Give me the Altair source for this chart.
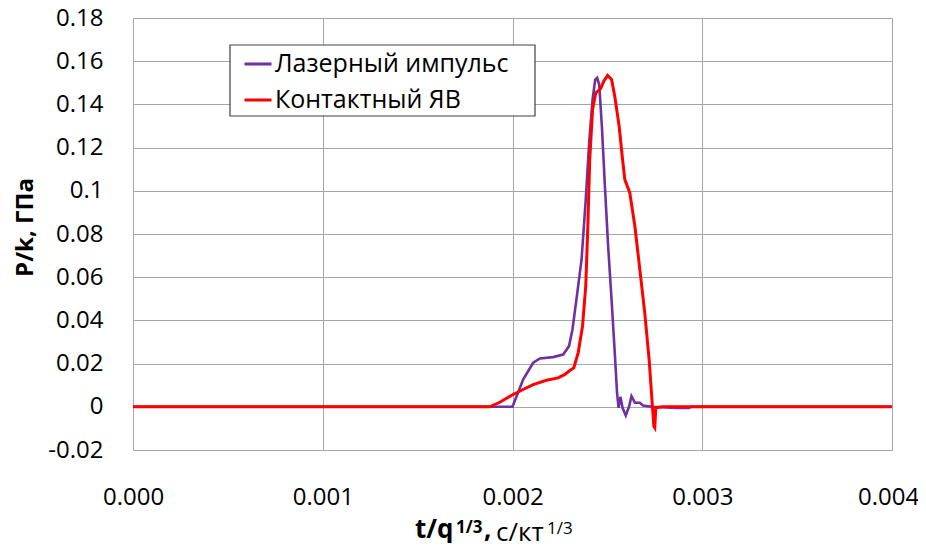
import altair as alt
import pandas as pd

# ---- data ----
laser_t = [0.0, 0.002, 0.002056, 0.002109, 0.002144, 0.002214, 0.002267, 0.002298,
           0.002316, 0.002337, 0.002364, 0.002386, 0.002404, 0.002422, 0.002436,
           0.002446, 0.002457, 0.002471, 0.002487, 0.002504, 0.002522, 0.002539,
           0.002551, 0.002559, 0.002569, 0.00258, 0.002597, 0.002615, 0.002627,
           0.002645, 0.002671, 0.002688, 0.002733, 0.00287, 0.00293, 0.00294, 0.004]
laser_p = [0.0, 0.0, 0.0126, 0.0204, 0.0224, 0.023, 0.0242, 0.0281,
           0.0358, 0.0497, 0.0682, 0.0959, 0.1222, 0.1423, 0.1515,
           0.1523, 0.1492, 0.1299, 0.1021, 0.0744, 0.0497, 0.025,
           0.0065, -0.0005, 0.0046, -0.0005, -0.004, 0.0003, 0.0049,
           0.0019, 0.0019, 0.0006, 0.0, -0.0005, -0.0005, 0.0, 0.0]

contact_t = [0.0, 0.00188, 0.001933, 0.002003, 0.002056, 0.002109, 0.002179, 0.00224,
             0.002276, 0.002302, 0.002323, 0.002346, 0.002369, 0.002386, 0.002397,
             0.002407, 0.002422, 0.002439, 0.002464, 0.002481, 0.002501, 0.002522,
             0.002539, 0.002562, 0.00258, 0.002592, 0.002618, 0.002645, 0.002671,
             0.002697, 0.00272, 0.002736, 0.002745, 0.00275, 0.002755, 0.00279, 0.004]
contact_p = [0.0, 0.0, 0.0021, 0.0057, 0.008, 0.0103, 0.0123, 0.0134,
             0.015, 0.0168, 0.018, 0.025, 0.0373, 0.0558, 0.0836,
             0.1145, 0.1376, 0.1454, 0.1472, 0.1507, 0.1534, 0.1515,
             0.1438, 0.1299, 0.1145, 0.1052, 0.0991, 0.0836, 0.0636,
             0.0435, 0.0219, 0.0019, -0.009, -0.0097, -0.0005, 0.0, 0.0]

series_names = ["Лазерный импульс", "Контактный ЯВ"]
series_colors = ["#7030A0", "#FF0000"]
x_ticks = [0.0, 0.001, 0.002, 0.003, 0.004]
y_ticks = [-0.02, 0.0, 0.02, 0.04, 0.06, 0.08, 0.1, 0.12, 0.14, 0.16, 0.18]

df_laser = pd.DataFrame({"t": laser_t, "p": laser_p, "series": series_names[0],
                         "order": range(len(laser_t))})
df_contact = pd.DataFrame({"t": contact_t, "p": contact_p, "series": series_names[1],
                           "order": range(len(contact_t))})

FONT = "Open Sans"
GRID = "#A6A6A6"

x_enc = alt.X("t:Q",
              scale=alt.Scale(domain=[0, 0.004], nice=False, zero=False),
              axis=alt.Axis(values=x_ticks, format=".3f", title="", grid=True,
                            gridColor=GRID, domain=False, ticks=False,
                            labelPadding=35, labelFontSize=24, labelFont=FONT,
                            labelColor="#000000", labelFlush=False,
                            labelOffset={"condition": {"test": "datum.value > 0.0035",
                                                       "value": -4},
                                         "value": 0}))
y_enc = alt.Y("p:Q",
              scale=alt.Scale(domain=[-0.02, 0.18], nice=False, zero=False),
              axis=alt.Axis(values=y_ticks, labelExpr="'' + datum.value",
                            title="P/k, ГПа", titleFont=FONT, titleFontSize=24,
                            titleFontWeight="bold", titleColor="#000000",
                            titleX=-108, titleY=209, titleBaseline="middle",
                            titleAngle=270, titleAlign="center",
                            grid=True, gridColor=GRID, domainColor=GRID,
                            ticks=False, labelPadding=30, labelFontSize=24,
                            labelFont=FONT, labelColor="#000000", labelFlush=False))
color_enc = alt.Color("series:N",
                      scale=alt.Scale(domain=series_names, range=series_colors),
                      title=None,
                      legend=alt.Legend(orient="none", legendX=97, legendY=27,
                                        symbolType="stroke", symbolSize=729,
                                        symbolStrokeWidth=3, labelFontSize=25,
                                        labelFont=FONT, labelColor="#000000",
                                        labelOffset=2, rowPadding=8, padding=4,
                                        symbolOffset=9, labelLimit=400))

# legend frame (white box with a dark outline), drawn under the legend entries
frame = alt.Chart(pd.DataFrame({"k": [0]})).mark_rect(
    fill="#FFFFFF", stroke="#404040", strokeWidth=1.2).encode(
    x=alt.value(97), x2=alt.value(402), y=alt.value(27), y2=alt.value(98))

laser = alt.Chart(df_laser).mark_line(strokeWidth=2.6).encode(
    x=x_enc, y=y_enc, color=color_enc, order="order:Q")
contact = alt.Chart(df_contact).mark_line(strokeWidth=3).encode(
    x=x_enc, y=y_enc, color=color_enc, order="order:Q")

# x-axis title pieces (bold main part, superscripts, normal units)
title_parts = pd.DataFrame({"k": [0]})
def txt(s, x, y, size, weight="normal"):
    return alt.Chart(title_parts).mark_text(
        text=s, align="left", baseline="alphabetic", font=FONT, fontSize=size,
        fontWeight=weight, color="#000000").encode(x=alt.value(x), y=alt.value(y))

xt = (txt("t/q", 282, 520, 26, "bold") + txt("1/3", 323, 515, 17, "bold")
      + txt(",", 351, 520, 26, "bold") + txt("с/кт", 363, 523, 26)
      + txt("1/3", 414, 516, 17))

chart = alt.layer(laser, contact, frame, xt).properties(
    width=759, height=432,
    autosize=alt.AutoSizeParams(type="none"),
    padding={"left": 125, "top": 10, "right": 26, "bottom": 93},
    background="#FFFFFF",
).configure_view(stroke=None)

chart.save("out.html", embed_options={"renderer": "svg", "actions": False})
